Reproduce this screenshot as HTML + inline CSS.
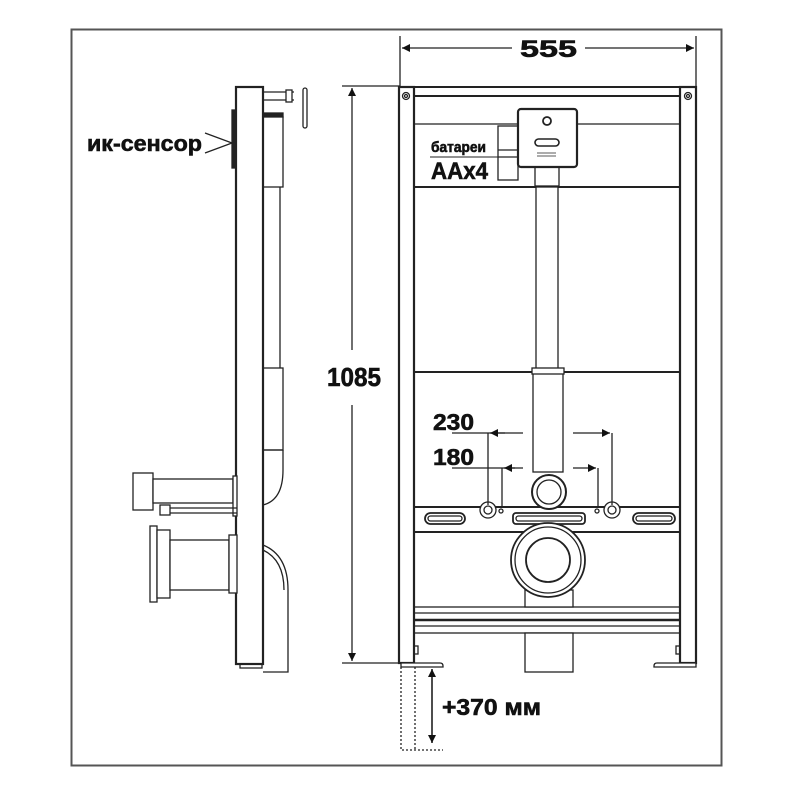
<!DOCTYPE html>
<html><head><meta charset="utf-8"><style>
html,body{margin:0;padding:0;background:#fff}
svg{display:block}
text{font-family:"Liberation Sans","DejaVu Sans",sans-serif;font-weight:bold;fill:#111;stroke:#111;stroke-width:0.6}
</style></head><body>
<svg width="800" height="800" viewBox="0 0 800 800" xmlns="http://www.w3.org/2000/svg">
<defs>
<marker id="ar" viewBox="0 0 10 10" refX="10" refY="5" markerWidth="10" markerHeight="8" orient="auto-start-reverse" markerUnits="userSpaceOnUse"><path d="M0,0 L10,5 L0,10 z" fill="#111"/></marker>
</defs>
<rect x="71.5" y="29.5" width="650" height="736" fill="none" stroke="#555" stroke-width="2"/>
<g fill="none" stroke="#222" stroke-width="1.3">
<line x1="400" y1="36" x2="400" y2="86"/><line x1="696" y1="36" x2="696" y2="86"/>
<line x1="402" y1="48" x2="512" y2="48" marker-start="url(#ar)"/>
<line x1="585" y1="48" x2="694" y2="48" marker-end="url(#ar)"/>
<line x1="342" y1="86" x2="400" y2="86"/><line x1="342" y1="663" x2="400" y2="663"/>
<line x1="352" y1="88" x2="352" y2="350" marker-start="url(#ar)"/>
<line x1="352" y1="405" x2="352" y2="661" marker-end="url(#ar)"/>
<rect x="399" y="87" width="297" height="9" fill="#fff" stroke-width="2"/>
<line x1="414" y1="124" x2="680" y2="124"/>
<line x1="414" y1="187" x2="680" y2="187" stroke-width="2"/>
<line x1="414" y1="372" x2="680" y2="372" stroke-width="2"/>
<line x1="414" y1="507" x2="680" y2="507" stroke-width="2"/>
<line x1="414" y1="532" x2="680" y2="532" stroke-width="2"/>
<rect x="414" y="607" width="266" height="26" fill="#fff"/>
<line x1="414" y1="613" x2="680" y2="613"/><line x1="414" y1="620" x2="680" y2="620" stroke-width="2.5"/><line x1="414" y1="626" x2="680" y2="626"/>
<rect x="399" y="87" width="15" height="576" fill="#fff" stroke-width="2.2"/>
<rect x="680" y="87" width="16" height="576" fill="#fff" stroke-width="2.2"/>
<circle cx="406" cy="96" r="3.5"/><circle cx="406" cy="96" r="1.5"/>
<circle cx="688" cy="96" r="3.5"/><circle cx="688" cy="96" r="1.5"/>
<rect x="498" y="126" width="20" height="54" fill="#fff"/>
<line x1="498" y1="150" x2="518" y2="150"/><line x1="498" y1="157" x2="518" y2="157"/>
<line x1="430" y1="157" x2="498" y2="157" stroke-width="1"/>
<rect x="535" y="167" width="24" height="19" fill="#fff"/>
<rect x="536" y="187" width="22" height="185" fill="#fff"/>
<rect x="518" y="109" width="59" height="58" rx="3" fill="#fff" stroke-width="2.2"/>
<circle cx="547" cy="121" r="4" stroke-width="1.8"/>
<rect x="535" y="139" width="24" height="7" rx="3.5" stroke-width="1.6"/>
<line x1="537" y1="153" x2="556" y2="153" stroke-width="0.7"/><line x1="537" y1="156" x2="556" y2="156" stroke-width="0.7"/>
<rect x="533" y="372" width="30" height="100" fill="#fff"/>
<rect x="532" y="368" width="32" height="6" fill="#fff"/>
<circle cx="549" cy="492" r="17" fill="#fff" stroke-width="2"/>
<circle cx="549" cy="492" r="12"/>
<rect x="425" y="513" width="40" height="11" rx="5.5" stroke-width="1.8"/><rect x="428" y="516" width="34" height="5" rx="2.5"/>
<rect x="513" y="513" width="72" height="11" rx="3" stroke-width="1.8"/><rect x="516" y="516" width="66" height="5" rx="2.5"/>
<rect x="633" y="513" width="42" height="11" rx="5.5" stroke-width="1.8"/><rect x="636" y="516" width="36" height="5" rx="2.5"/>
<circle cx="488" cy="510" r="8" fill="#fff"/><circle cx="488" cy="510" r="4"/>
<circle cx="612" cy="510" r="8" fill="#fff"/><circle cx="612" cy="510" r="4"/>
<circle cx="501" cy="511" r="2"/><circle cx="597" cy="511" r="2"/>
<rect x="525" y="590" width="48" height="17" fill="#fff"/>
<circle cx="548" cy="560" r="37" fill="#fff" stroke-width="1.8"/>
<circle cx="548" cy="560" r="33"/>
<circle cx="548" cy="560" r="22" stroke-width="1.8"/>
<rect x="525" y="633" width="48" height="39" fill="#fff"/>
<path d="M401,663 H440 Q443,663 443,666 V667 H401 Z" fill="#fff"/>
<path d="M696,663 H657 Q654,663 654,666 V667 H696 Z" fill="#fff"/>
<rect x="414" y="646" width="4" height="8"/><rect x="676" y="646" width="4" height="8"/>
<line x1="452" y1="433" x2="523" y2="433"/><line x1="488" y1="433" x2="488" y2="505"/>
<line x1="490" y1="433" x2="505" y2="433" marker-start="url(#ar)"/>
<line x1="573" y1="433" x2="610" y2="433" marker-end="url(#ar)"/><line x1="612" y1="433" x2="612" y2="505"/>
<line x1="452" y1="468" x2="523" y2="468"/><line x1="502" y1="468" x2="502" y2="508"/>
<line x1="504" y1="468" x2="515" y2="468" marker-start="url(#ar)"/>
<line x1="573" y1="468" x2="596" y2="468" marker-end="url(#ar)"/><line x1="598" y1="468" x2="598" y2="508"/>
<g stroke-dasharray="2,2"><path d="M401,667 V750 H443"/><line x1="415" y1="667" x2="415" y2="750"/></g>
<line x1="432" y1="669" x2="432" y2="743" marker-start="url(#ar)" marker-end="url(#ar)" stroke-width="1.6"/>
<path d="M263,92 H294 M263,100 H294" /><rect x="286" y="90" width="6" height="12" fill="#fff"/>
<rect x="303" y="88" width="4" height="40" rx="2" fill="#fff"/>
<rect x="263" y="113" width="20" height="4" fill="#222"/>
<rect x="263" y="117" width="20" height="70" fill="#fff"/>
<line x1="263" y1="187" x2="263" y2="368"/><line x1="280" y1="187" x2="280" y2="368"/>
<rect x="263" y="368" width="20" height="82" fill="#fff"/>
<path d="M263,450 H283 M283,450 V470 Q283,500 263,505"/>
<path d="M263,545 Q288,555 288,590 V672 H263"/>
<path d="M263,550 Q284,560 284,590"/>
<rect x="236" y="87" width="27" height="577" fill="#fff" stroke-width="2.2"/>
<rect x="240" y="664" width="22" height="4"/>
<rect x="232" y="110" width="4" height="58" fill="#222"/>
<path d="M205,133 L232,143 L205,153"/>
<rect x="133" y="473" width="20" height="37" fill="#fff"/>
<rect x="153" y="479" width="80" height="24" fill="#fff"/>
<rect x="233" y="476" width="4" height="40" fill="#fff"/>
<line x1="160" y1="508" x2="237" y2="508"/><line x1="160" y1="513" x2="237" y2="513"/>
<rect x="160" y="505" width="10" height="10" fill="#fff"/>
<rect x="150" y="526" width="7" height="76" fill="#fff"/>
<rect x="157" y="530" width="13" height="68" fill="#fff"/>
<rect x="170" y="540" width="59" height="50" fill="#fff"/>
<rect x="229" y="535" width="8" height="58" fill="#fff"/>
</g>
<text x="87" y="151" font-size="22" textLength="115" lengthAdjust="spacingAndGlyphs">ик-сенсор</text>
<text x="520" y="57" font-size="24" textLength="57" lengthAdjust="spacingAndGlyphs">555</text>
<text x="327" y="386" font-size="26" textLength="54" lengthAdjust="spacingAndGlyphs">1085</text>
<text x="431" y="152" font-size="15" textLength="55" lengthAdjust="spacingAndGlyphs">батареи</text>
<text x="431" y="179" font-size="24" textLength="57" lengthAdjust="spacingAndGlyphs">AAx4</text>
<text x="433" y="430" font-size="23" textLength="41" lengthAdjust="spacingAndGlyphs">230</text>
<text x="433" y="465" font-size="23" textLength="41" lengthAdjust="spacingAndGlyphs">180</text>
<text x="442" y="715" font-size="23" textLength="99" lengthAdjust="spacingAndGlyphs">+370 мм</text>
</svg>
</body></html>
